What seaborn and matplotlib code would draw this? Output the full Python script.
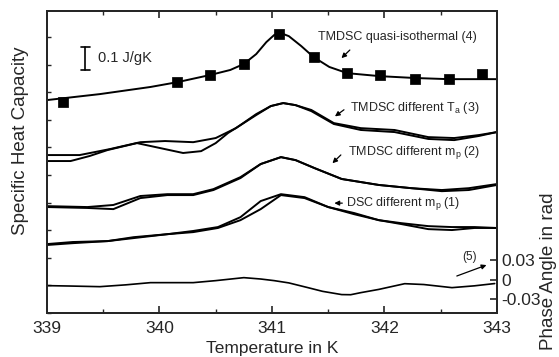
import numpy as np
import pandas as pd
import seaborn as sns
import matplotlib.pyplot as plt
from matplotlib.ticker import MultipleLocator

# ===============================
# DATA
# ===============================
# (4) TMDSC quasi-isothermal: smooth line + square markers
t4_line = [339.00, 339.47, 339.92, 340.16, 340.45, 340.63, 340.75, 340.86, 340.95,
           341.02, 341.08, 341.15, 341.26, 341.37, 341.51, 341.67, 341.96, 342.27,
           342.57, 343.00]
cp4_line = [0.926, 0.952, 0.983, 1.004, 1.035, 1.057, 1.083, 1.126, 1.178,
            1.209, 1.217, 1.204, 1.161, 1.113, 1.070, 1.043, 1.030, 1.022,
            1.017, 1.017]
t4_pts = [339.14, 340.16, 340.45, 340.75, 341.06, 341.37, 341.67, 341.96, 342.27, 342.57, 342.87]
cp4_pts = [0.917, 1.004, 1.035, 1.083, 1.213, 1.113, 1.043, 1.035, 1.017, 1.017, 1.039]

# (3) TMDSC different Ta: two runs
t3a = [339.00, 339.29, 339.56, 339.83, 340.05, 340.30, 340.50, 340.68, 340.86, 340.99,
       341.10, 341.21, 341.35, 341.55, 341.79, 342.09, 342.39, 342.62, 342.84, 343.00]
cp3a = [0.687, 0.687, 0.713, 0.743, 0.748, 0.743, 0.761, 0.804, 0.865, 0.900,
        0.913, 0.904, 0.883, 0.826, 0.804, 0.796, 0.765, 0.761, 0.774, 0.787]
t3b = [339.00, 339.21, 339.38, 339.54, 339.80, 340.01, 340.21, 340.37, 340.50, 340.61,
       340.72, 340.86, 340.99, 341.10, 341.21, 341.35, 341.55, 341.79, 342.09, 342.39,
       342.62, 342.84, 343.00]
cp3b = [0.661, 0.661, 0.683, 0.709, 0.739, 0.717, 0.696, 0.704, 0.739, 0.783,
        0.817, 0.861, 0.900, 0.913, 0.904, 0.878, 0.822, 0.796, 0.787, 0.757,
        0.752, 0.770, 0.787]

# (2) TMDSC different mp: two runs
t2 = [339.00, 339.36, 339.59, 339.83, 340.07, 340.30, 340.48, 340.72, 340.90, 341.08,
      341.21, 341.38, 341.62, 341.95, 342.24, 342.51, 342.75, 343.00]
cp2a = [0.465, 0.461, 0.470, 0.509, 0.517, 0.517, 0.539, 0.591, 0.648, 0.678,
        0.665, 0.630, 0.583, 0.557, 0.543, 0.535, 0.543, 0.561]
cp2b = [0.461, 0.457, 0.452, 0.500, 0.513, 0.513, 0.535, 0.587, 0.648, 0.678,
        0.665, 0.630, 0.583, 0.557, 0.543, 0.530, 0.535, 0.557]

# (1) DSC different mp: two runs
t1 = [339.00, 339.23, 339.54, 339.77, 340.07, 340.30, 340.52, 340.72, 340.90, 341.08,
      341.29, 341.50, 341.73, 341.95, 342.15, 342.39, 342.60, 342.80, 343.00]
cp1a = [0.300, 0.309, 0.313, 0.330, 0.343, 0.357, 0.374, 0.417, 0.487, 0.517,
        0.504, 0.461, 0.435, 0.404, 0.391, 0.378, 0.374, 0.374, 0.370]
cp1b = [0.296, 0.304, 0.313, 0.326, 0.343, 0.352, 0.370, 0.404, 0.452, 0.513,
        0.500, 0.461, 0.430, 0.404, 0.387, 0.365, 0.361, 0.370, 0.370]

# (5) phase angle
t5 = [339.00, 339.20, 339.47, 339.70, 339.92, 340.10, 340.30, 340.50, 340.75, 340.90,
      341.02, 341.15, 341.32, 341.45, 341.62, 341.70, 341.79, 341.95, 342.18, 342.35,
      342.60, 342.80, 342.98]
phase5 = [-0.0092, -0.0098, -0.0108, -0.0080, -0.0046, -0.0046, -0.0046, -0.0015, 0.0031, 0.0010,
          -0.0015, -0.0050, -0.0123, -0.0180, -0.0230, -0.0232, -0.0200, -0.0150, -0.0062, -0.0075,
          -0.0123, -0.0095, -0.0060]

# ===============================
# STYLE
# ===============================
sns.set_style("ticks")
plt.rcParams['font.family'] = ['Liberation Sans', 'DejaVu Sans']
plt.rcParams['mathtext.fontset'] = 'custom'
plt.rcParams['mathtext.rm'] = 'Liberation Sans'

fig = plt.figure(figsize=(5.59, 3.57), dpi=100)
ax = fig.add_axes([0.084, 0.123, 0.805, 0.846])

lw = 1.4
for tt, cc in [(t4_line, cp4_line), (t3a, cp3a), (t3b, cp3b), (t2, cp2a), (t2, cp2b),
               (t1, cp1a), (t1, cp1b)]:
    sns.lineplot(x=tt, y=cc, ax=ax, color='black', lw=lw, sort=False, estimator=None)

sns.scatterplot(x=t4_pts, y=cp4_pts, ax=ax, marker='s', color='black', s=42,
                edgecolor='black', zorder=5)

ax.set_xlim(339, 343)
ax.set_ylim(0, 1.313)
ax.xaxis.set_major_locator(MultipleLocator(1))
ax.xaxis.set_minor_locator(MultipleLocator(0.5))
ax.yaxis.set_major_locator(MultipleLocator(0.12))
ax.set_yticklabels([])
ax.tick_params(axis='x', which='both', direction='in', top=True, labelsize=12.5, pad=6)
ax.tick_params(axis='x', which='major', length=5, width=1.2)
ax.tick_params(axis='x', which='minor', length=3, width=1.0)
ax.tick_params(axis='y', which='both', direction='in', length=3, width=1.0, right=False)
ax.set_xlabel("Temperature in K", fontsize=12.5, labelpad=3)
ax.set_ylabel("Specific Heat Capacity", fontsize=13.5)
ax.yaxis.set_label_coords(-0.04, 0.57)

# phase angle on twin axis
ax2 = ax.twinx()
sns.lineplot(x=t5, y=phase5, ax=ax2, color='black', lw=1.2, sort=False, estimator=None)
ax2.set_ylim(-0.0515, 0.4138)
ax2.set_yticks([-0.03, 0, 0.03])
ax2.set_yticklabels(["-0.03", "0", "0.03"])
ax2.tick_params(axis='y', direction='in', length=5, width=1.2, labelsize=12.5, pad=3)
ax2.set_ylabel("Phase Angle in rad", fontsize=13.5)
ax2.yaxis.set_label_coords(1.095, 0.14)

for a in (ax, ax2):
    for s in a.spines.values():
        s.set_linewidth(1.4)
        s.set_visible(True)

# scale bar 0.1 J/gK
ax.plot([339.34, 339.34], [1.057, 1.157], color='black', lw=1.2)
ax.plot([339.30, 339.38], [1.157, 1.157], color='black', lw=1.2)
ax.plot([339.30, 339.38], [1.057, 1.057], color='black', lw=1.2)
ax.text(339.45, 1.107, "0.1 J/gK", fontsize=10.5, va='center', ha='left')

# annotations
arr = dict(arrowstyle='-|>', color='black', lw=0.9, mutation_scale=7)
ax.text(341.41, 1.200, "TMDSC quasi-isothermal (4)", fontsize=9, ha='left', va='center')
ax.annotate("", xy=(341.60, 1.10), xytext=(341.71, 1.152), arrowprops=arr)
ax.text(341.69, 0.891, "TMDSC different T$_\\mathrm{a}$ (3)", fontsize=9, ha='left', va='center')
ax.annotate("", xy=(341.54, 0.848), xytext=(341.66, 0.891), arrowprops=arr)
ax.text(341.68, 0.700, "TMDSC different m$_\\mathrm{p}$ (2)", fontsize=9, ha='left', va='center')
ax.annotate("", xy=(341.52, 0.643), xytext=(341.63, 0.696), arrowprops=arr)
ax.text(341.66, 0.478, "DSC different m$_\\mathrm{p}$ (1)", fontsize=9, ha='left', va='center')
ax.annotate("", xy=(341.53, 0.478), xytext=(341.65, 0.478), arrowprops=arr)
ax.text(342.69, 0.243, "(5)", fontsize=8.5, ha='left', va='center')
ax.annotate("", xy=(342.93, 0.213), xytext=(342.62, 0.157), arrowprops=arr)

fig.savefig("out.png", dpi=100)
